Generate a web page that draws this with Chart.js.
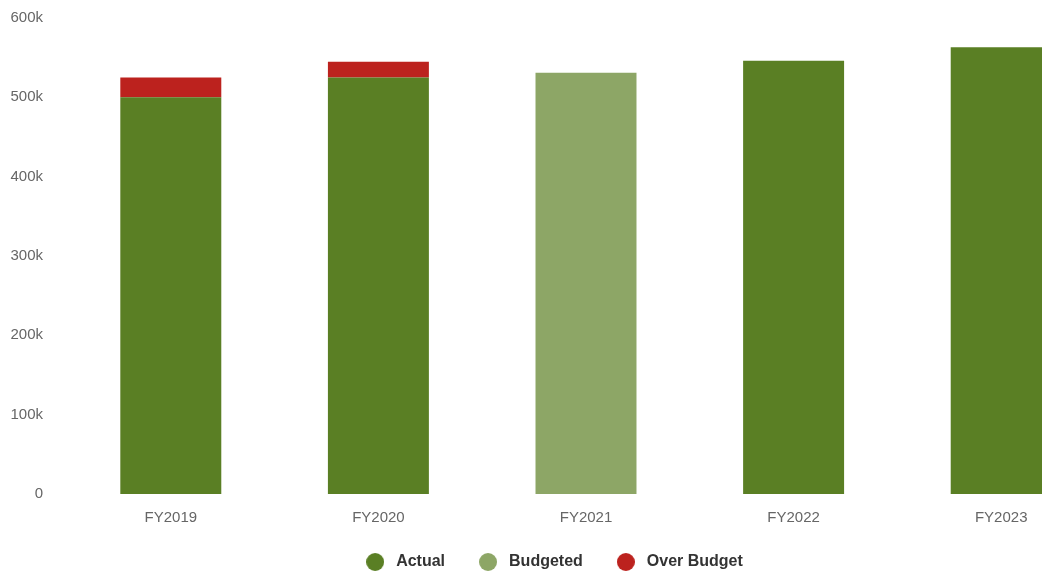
<!DOCTYPE html>
<html>
<head>
<meta charset="utf-8">
<script src="https://cdn.jsdelivr.net/npm/chart.js@4"></script>
<style>
  html, body { margin: 0; padding: 0; background: #fff; overflow: hidden; }
  #wrap { width: 1115px; height: 580px; }
</style>
</head>
<body>
<div id="wrap"><canvas id="budgetChart"></canvas></div>
<script>
const years = ['FY2019', 'FY2020', 'FY2021', 'FY2022', 'FY2023'];
const actual = [500000, 525000, null, 546000, 563000];
const budgeted = [null, null, 531000, null, null];
const overBudget = [25000, 20000, null, null, null];

const colors = ['#5a7f24', '#8da666', '#bc221e'];

// round legend markers
function dot(color) {
    const c = document.createElement('canvas');
    c.width = 18; c.height = 18;
    const g = c.getContext('2d');
    g.fillStyle = color;
    g.beginPath();
    g.arc(9, 9, 9, 0, Math.PI * 2);
    g.fill();
    return c;
}
const dots = colors.map(dot);

document.addEventListener("DOMContentLoaded", function () {
    const ctx = document.getElementById("budgetChart").getContext("2d");
    new Chart(ctx, {
        type: 'bar',
        data: {
            labels: years,
            datasets: [
                { label: 'Actual', data: actual, backgroundColor: colors[0] },
                { label: 'Budgeted', data: budgeted, backgroundColor: colors[1] },
                { label: 'Over Budget', data: overBudget, backgroundColor: colors[2] }
            ]
        },
        options: {
            responsive: true,
            maintainAspectRatio: false,
            animation: false,
            layout: { padding: { top: 18, right: 10, left: 0, bottom: 0 } },
            datasets: { bar: { categoryPercentage: 0.8, barPercentage: 0.608 } },
            scales: {
                x: {
                    stacked: true,
                    grid: { display: false },
                    border: { display: false },
                    ticks: { color: '#666', font: { family: 'Liberation Sans', size: 15 }, padding: 7 },
                    afterFit(scale) { scale.height = 30; }
                },
                y: {
                    stacked: true,
                    min: 0,
                    max: 600000,
                    grid: { display: false },
                    border: { display: false },
                    ticks: {
                        stepSize: 100000,
                        color: '#666',
                        padding: 16,
                        font: { family: 'Liberation Sans', size: 15 },
                        callback: v => v === 0 ? '0' : (v / 1000) + 'k'
                    },
                    afterFit(scale) {
                        scale.width = 67;
                        scale.paddingTop = 0;
                        scale.paddingBottom = 0;
                    }
                }
            },
            plugins: {
                tooltip: { enabled: false },
                legend: {
                    position: 'bottom',
                    labels: {
                        usePointStyle: true,
                        pointStyleWidth: 26,
                        boxHeight: 13,
                        padding: 30,
                        color: '#333',
                        font: { family: 'Liberation Sans', size: 16, weight: 'bold' },
                        generateLabels(chart) {
                            const items = Chart.defaults.plugins.legend.labels.generateLabels(chart);
                            items.forEach((it, i) => { it.pointStyle = dots[i]; });
                            return items;
                        }
                    }
                }
            }
        }
    });
});
</script>
</body>
</html>
